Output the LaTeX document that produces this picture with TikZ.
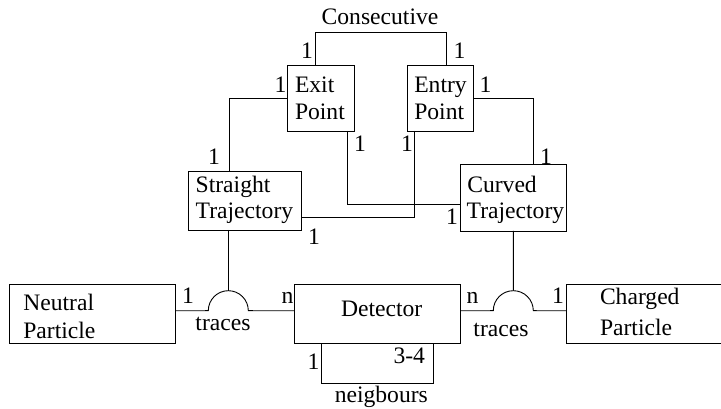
\documentclass[tikz,border=0pt]{standalone}
\usepackage{fontspec}
\setmainfont{Liberation Serif}[Ligatures=TeX]
\newfontfamily\labelface{Liberation Serif}
\begin{document}
\begin{tikzpicture}[x=1pt,y=1pt,
  line width=0.9pt,
  entity/.style={draw, rectangle, inner sep=0pt, outer sep=0pt},
  txt/.style={inner sep=0pt, outer sep=0pt, font=\labelface\fontsize{23.6}{27}\selectfont},
  lbl/.style={txt, anchor=base},
  lft/.style={txt, anchor=base west}]
\useasboundingbox (0,0) rectangle (721,409);

% entity boxes
\node[entity, minimum width=66.3, minimum height=66] (exit) at (320.85,311) {};
\node[entity, minimum width=66, minimum height=66] (entry) at (440.3,311) {};
\node[entity, minimum width=113.4, minimum height=58.3] (straight) at (245,208.15) {};
\node[entity, minimum width=106.7, minimum height=66.7] (curved) at (513.35,211.35) {};
\node[entity, minimum width=166.4, minimum height=59.5] (neutral) at (92.5,95.25) {};
\node[entity, minimum width=166, minimum height=59.5] (detector) at (377.7,95.25) {};
\node[entity, minimum width=170, minimum height=59.5] (charged) at (651.7,95.25) {};

% box texts
\node[lft] (exitA) at (295,316.3) {Exit};
\node[lft] (exitB) at (295,289) {Point};
\node[lft] (entryA) at (414.3,316.3) {Entry};
\node[lft] (entryB) at (414.3,289) {Point};
\node[lft] (straightA) at (195.7,216.3) {Straight};
\node[lft] (straightB) at (195.7,190.7) {Trajectory};
\node[lft] (curvedA) at (467.3,216.3) {Curved};
\node[lft] (curvedB) at (466.7,190.7) {Trajectory};
\node[lft] (neutralA) at (23.3,98.3) {Neutral};
\node[lft] (neutralB) at (23.3,70.7) {Particle};
\node[lbl] (detectorA) at (381.7,92.3) {Detector};
\node[lft] (chargedA) at (600,104.7) {Charged};
\node[lft] (chargedB) at (600,73.3) {Particle};

% relationship points
\coordinate (ctop) at (380,376.7);
\coordinate (trL) at (228.3,98.3);
\coordinate (trR) at (513.3,98.3);
\coordinate (nb) at (377.5,25.7);

% Consecutive: exit -- entry
\draw ([xshift=27.3pt]exit.north west) |- (ctop) -| ([xshift=39.4pt]entry.north west);
% exit -- straight, entry -- curved
\draw ([yshift=-33.3pt]exit.north west) -| ([xshift=40.7pt]straight.north west);
\draw ([yshift=-33.3pt]entry.north east) -| ([xshift=-33.4pt]curved.north east);
% exit -- curved, entry -- straight
\draw ([xshift=-6.7pt]exit.south east) |- ([yshift=-40pt]curved.north west);
\draw ([xshift=7pt]entry.south west) |- ([yshift=-45.6pt]straight.north east);

% traces relationships
\draw ([yshift=3pt]neutral.east) -- ([xshift=-20pt]trL)
      arc[start angle=180, end angle=0, radius=20] -- ([yshift=3pt]detector.west);
\draw ([xshift=40pt]straight.south west) -- ([yshift=20pt]trL);
\draw ([yshift=3pt]detector.east) -- ([xshift=-20pt]trR)
      arc[start angle=180, end angle=0, radius=20] -- ([yshift=3pt]charged.west);
\draw (curved.south) -- ([yshift=20pt]trR);

% neigbours loop
\draw ([xshift=26.6pt]detector.south west) |- (nb) -| ([xshift=-27pt]detector.south east);

% relationship names
\node[lbl] (consec) at (380,384) {Consecutive};
\node[lbl] (trLname) at (223,78.3) {traces};
\node[lbl] (trRname) at (501,72.3) {traces};
\node[lbl] (nbname) at (381.3,6) {neigbours};

% cardinalities
\node[lbl] (c1) at (307,350.7) {1};
\node[lbl] (c2) at (459.5,350.7) {1};
\node[lbl] (c3) at (280.5,316.3) {1};
\node[lbl] (c4) at (485.5,316.3) {1};
\node[lbl] (c5) at (360,257.3) {1};
\node[lbl] (c6) at (407,257.3) {1};
\node[lbl] (c7) at (214,244) {1};
\node[lbl] (c8) at (546,244) {1};
\node[lbl] (c9) at (452,184) {1};
\node[lbl] (c10) at (314,164.7) {1};
\node[lbl] (c11) at (188,105) {1};
\node[lbl] (c12) at (287.5,105) {n};
\node[lbl] (c13) at (472.5,105) {n};
\node[lbl] (c14) at (558,105) {1};
\node[lbl] (c15) at (313.5,39.7) {1};
\node[txt, anchor=base east] (c16) at (425,45) {3-4};
\end{tikzpicture}
\end{document}
